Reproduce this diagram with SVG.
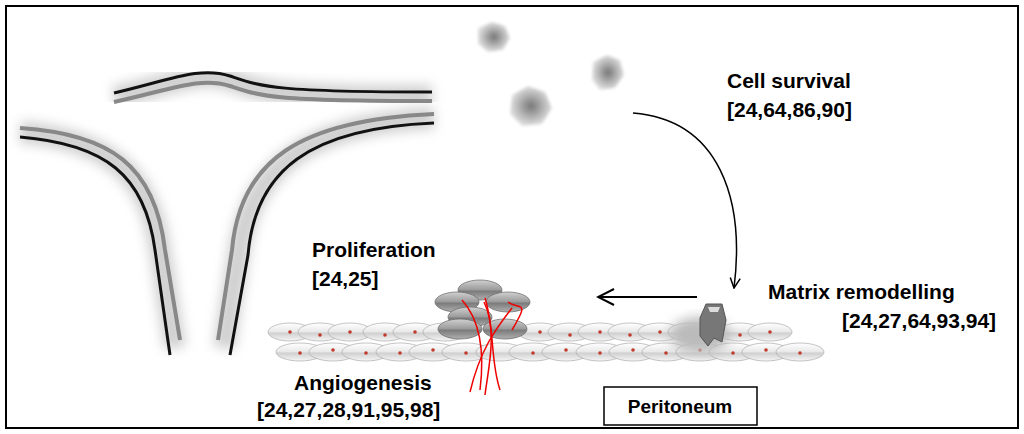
<svg xmlns="http://www.w3.org/2000/svg" width="1024" height="434" viewBox="0 0 1024 434">
<defs>
<filter id="blur" x="-20%" y="-20%" width="140%" height="140%"><feGaussianBlur stdDeviation="6"/></filter>
<filter id="blob" x="-50%" y="-50%" width="200%" height="200%"><feGaussianBlur stdDeviation="1.5"/></filter>
<linearGradient id="cell" x1="0" y1="0" x2="0" y2="1"><stop offset="0" stop-color="#ffffff"/><stop offset="0.5" stop-color="#e8e8e8"/><stop offset="0.55" stop-color="#cfcfcf"/><stop offset="1" stop-color="#f6f6f6"/></linearGradient>
<linearGradient id="gcell" x1="0" y1="0" x2="0" y2="1"><stop offset="0" stop-color="#d0d0d0"/><stop offset="0.5" stop-color="#9a9a9a"/><stop offset="0.55" stop-color="#7a7a7a"/><stop offset="1" stop-color="#b0b0b0"/></linearGradient>
<radialGradient id="tc"><stop offset="0" stop-color="#777"/><stop offset="1" stop-color="#e0e0e0"/></radialGradient>
<marker id="ah" viewBox="0 0 12 12" refX="11" refY="6" markerWidth="12" markerHeight="12" markerUnits="userSpaceOnUse" orient="auto"><path d="M1,1 L11,6 L1,11" fill="none" stroke="#000" stroke-width="1.5"/></marker>
<marker id="ah2" viewBox="0 0 20 20" refX="18" refY="10" markerWidth="20" markerHeight="20" markerUnits="userSpaceOnUse" orient="auto"><path d="M2,2 L18,10 L2,18" fill="none" stroke="#000" stroke-width="2"/></marker>
</defs>
<style>
.t{font-family:"Liberation Sans",Arial,sans-serif;font-weight:bold;font-size:21px;fill:#000}
.c{fill:url(#cell);stroke:#aaa;stroke-width:0.7}
.g{fill:url(#gcell);stroke:#666;stroke-width:0.7}
.d{fill:#c0392b}
.bk{fill:none;stroke:#111;stroke-width:3}
.gr{fill:none;stroke:#888;stroke-width:4}
.sh{fill:none;stroke:#d0d0d0;stroke-width:22;filter:url(#blur)}
</style>
<rect x="0" y="0" width="1024" height="434" fill="#fff"/>
<rect x="6" y="6" width="1012" height="422" fill="none" stroke="#000" stroke-width="2"/>
<g id="vessel">
<path class="sh" d="M114,97 C170,85 200,70 230,80 C260,90 270,97 432,96"/>
<path class="sh" d="M20,132 C110,140 150,175 160,250 L175,348"/>
<path class="sh" d="M434,118 C310,124 255,165 240,245 L224,348"/>
<path class="bk" d="M114,93 C170,80 200,66 230,76 C260,86 270,92 432,92"/>
<path class="gr" d="M114,102 C170,90 200,76 230,86 C260,96 270,101 432,101"/>
<path class="gr" d="M20,128 C110,134 155,165 165,250 L180,340"/>
<path class="bk" d="M20,137 C105,144 145,175 155,250 L170,355"/>
<path class="gr" d="M434,114 C300,120 240,160 232,250 L218,340"/>
<path class="bk" d="M434,123 C310,128 255,170 248,255 L230,355"/>
</g>
<g id="tumorcells">
<path d="M478,28 L492,22 L505,26 L510,38 L503,50 L488,52 L478,44 Z" fill="url(#tc)" filter="url(#blob)"/>
<path d="M593,62 L607,55 L620,60 L624,75 L615,88 L600,90 L592,80 Z" fill="url(#tc)" filter="url(#blob)"/>
<path d="M512,95 L528,86 L545,92 L552,108 L542,124 L522,126 L510,114 Z" fill="url(#tc)" filter="url(#blob)"/>
</g>
<g id="peritoneum-cells">
<g>
<ellipse class="c" cx="290" cy="332" rx="22" ry="9"/><ellipse class="c" cx="320" cy="332" rx="22" ry="9"/><ellipse class="c" cx="350" cy="332" rx="22" ry="9"/><ellipse class="c" cx="385" cy="332" rx="22" ry="9"/><ellipse class="c" cx="415" cy="332" rx="22" ry="9"/><ellipse class="c" cx="445" cy="332" rx="22" ry="9"/><ellipse class="c" cx="540" cy="332" rx="22" ry="9"/><ellipse class="c" cx="570" cy="332" rx="22" ry="9"/><ellipse class="c" cx="600" cy="332" rx="22" ry="9"/><ellipse class="c" cx="630" cy="332" rx="22" ry="9"/><ellipse class="c" cx="660" cy="332" rx="22" ry="9"/><ellipse class="c" cx="690" cy="332" rx="22" ry="9"/><ellipse class="c" cx="740" cy="332" rx="22" ry="9"/><ellipse class="c" cx="770" cy="332" rx="22" ry="9"/>
<ellipse class="c" cx="300" cy="352" rx="24" ry="9"/><ellipse class="c" cx="333" cy="352" rx="24" ry="9"/><ellipse class="c" cx="366" cy="352" rx="24" ry="9"/><ellipse class="c" cx="400" cy="352" rx="24" ry="9"/><ellipse class="c" cx="433" cy="352" rx="24" ry="9"/><ellipse class="c" cx="466" cy="352" rx="24" ry="9"/><ellipse class="c" cx="500" cy="352" rx="24" ry="9"/><ellipse class="c" cx="533" cy="352" rx="24" ry="9"/><ellipse class="c" cx="566" cy="352" rx="24" ry="9"/><ellipse class="c" cx="600" cy="352" rx="24" ry="9"/><ellipse class="c" cx="633" cy="352" rx="24" ry="9"/><ellipse class="c" cx="666" cy="352" rx="24" ry="9"/><ellipse class="c" cx="700" cy="352" rx="24" ry="9"/><ellipse class="c" cx="733" cy="352" rx="24" ry="9"/><ellipse class="c" cx="766" cy="352" rx="24" ry="9"/><ellipse class="c" cx="800" cy="352" rx="24" ry="9"/>
</g>
<g>
<circle class="d" cx="290" cy="332" r="1.8"/><circle class="d" cx="320" cy="335" r="1.8"/><circle class="d" cx="350" cy="332" r="1.8"/><circle class="d" cx="385" cy="335" r="1.8"/><circle class="d" cx="415" cy="332" r="1.8"/><circle class="d" cx="540" cy="332" r="1.8"/><circle class="d" cx="570" cy="335" r="1.8"/><circle class="d" cx="600" cy="332" r="1.8"/><circle class="d" cx="630" cy="335" r="1.8"/><circle class="d" cx="660" cy="332" r="1.8"/><circle class="d" cx="690" cy="335" r="1.8"/><circle class="d" cx="740" cy="335" r="1.8"/><circle class="d" cx="770" cy="332" r="1.8"/>
<circle class="d" cx="300" cy="353" r="1.8"/><circle class="d" cx="333" cy="350" r="1.8"/><circle class="d" cx="366" cy="353" r="1.8"/><circle class="d" cx="400" cy="353" r="1.8"/><circle class="d" cx="433" cy="350" r="1.8"/><circle class="d" cx="466" cy="353" r="1.8"/><circle class="d" cx="533" cy="353" r="1.8"/><circle class="d" cx="566" cy="350" r="1.8"/><circle class="d" cx="600" cy="353" r="1.8"/><circle class="d" cx="633" cy="350" r="1.8"/><circle class="d" cx="666" cy="353" r="1.8"/><circle class="d" cx="700" cy="350" r="1.8"/><circle class="d" cx="733" cy="353" r="1.8"/><circle class="d" cx="766" cy="350" r="1.8"/><circle class="d" cx="800" cy="353" r="1.8"/>
</g>
</g>
<g id="proliferating-cells">
<ellipse class="g" cx="480" cy="290" rx="22" ry="10"/>
<ellipse class="g" cx="457" cy="302" rx="22" ry="10"/>
<ellipse class="g" cx="508" cy="302" rx="22" ry="10"/>
<ellipse class="g" cx="470" cy="317" rx="22" ry="10"/>
<ellipse class="g" cx="460" cy="329" rx="22" ry="10"/>
<ellipse class="g" cx="505" cy="329" rx="22" ry="10"/>
</g>
<g id="angiogenesis" fill="none" stroke="#e00" stroke-width="1.5">
<path d="M462,300 C480,320 485,350 480,390"/>
<path d="M485,298 C495,330 490,360 500,390"/>
<path d="M484,302 C498,330 488,370 485,395"/>
<path d="M512,308 C495,330 480,350 470,392"/>
<path d="M508,302 C520,310 530,300 512,330"/>
</g>
<g id="matrix">
<ellipse cx="700" cy="335" rx="30" ry="18" fill="#bbb" filter="url(#blur)"/>
<path d="M700,318 L706,304 L722,304 L726,320 L722,342 L714,338 L708,346 L700,336 Z" fill="#777" stroke="#555"/>
<path d="M708,307 L720,307 L718,312 L710,312 Z" fill="#ddd"/>
</g>
<g id="connectors">
<path d="M633,113 C720,120 745,200 734,288" fill="none" stroke="#000" stroke-width="1.5" marker-end="url(#ah)"/>
<path d="M697,297 L598,297" fill="none" stroke="#000" stroke-width="2" marker-end="url(#ah2)"/>
</g>
<g id="labels">
<text class="t" x="727" y="88">Cell survival</text>
<text class="t" x="727" y="117">[24,64,86,90]</text>
<text class="t" x="312" y="257">Proliferation</text>
<text class="t" x="312" y="286">[24,25]</text>
<text class="t" x="768" y="299">Matrix remodelling</text>
<text class="t" x="842" y="328">[24,27,64,93,94]</text>
<text class="t" x="294" y="390">Angiogenesis</text>
<text class="t" x="257" y="417">[24,27,28,91,95,98]</text>
</g>
<g id="peritoneum">
<rect x="604" y="387" width="153" height="38" fill="#fff" stroke="#000" stroke-width="1.5"/>
<text class="t" x="680" y="413" text-anchor="middle" style="font-size:19px">Peritoneum</text>
</g>
</svg>
